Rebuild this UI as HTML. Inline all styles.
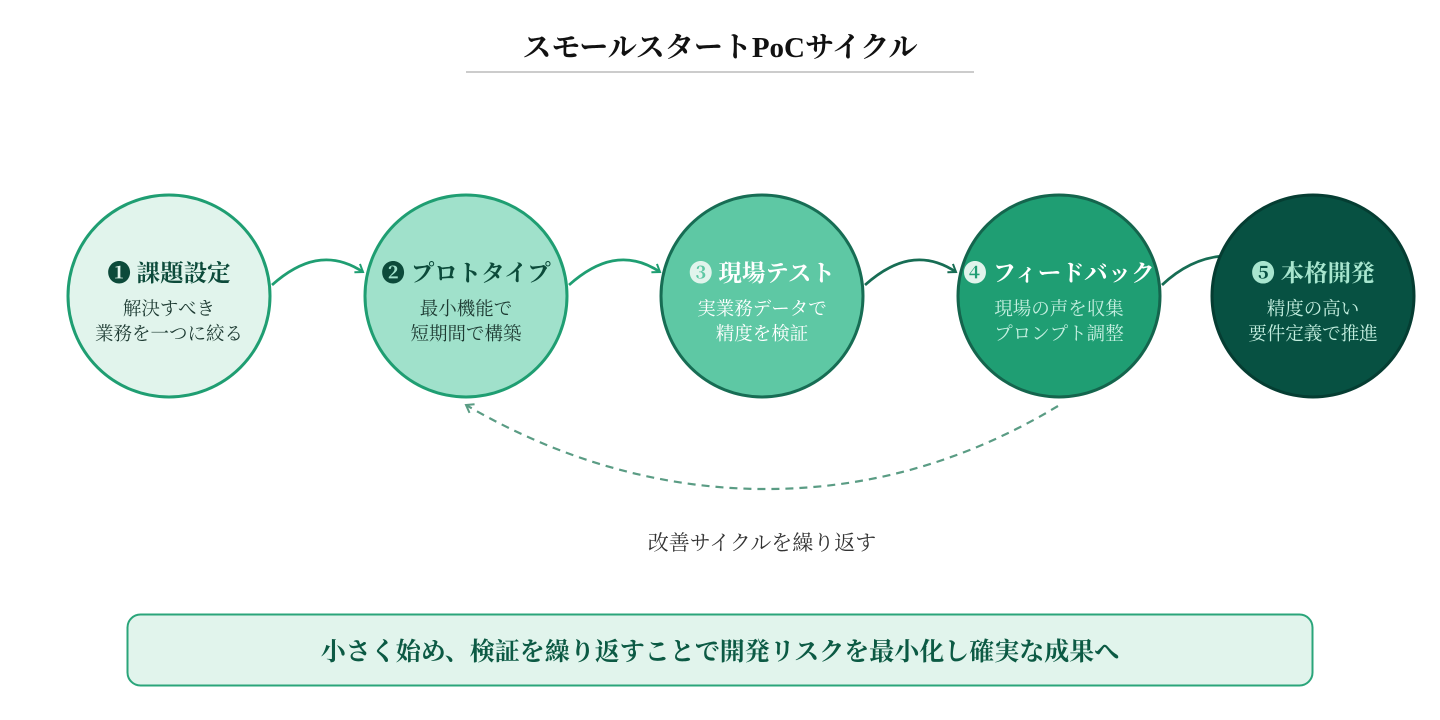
<!DOCTYPE html>
<html><head><meta charset="utf-8"><style>
html,body{margin:0;padding:0;background:#fff;}
body{width:1440px;height:720px;position:relative;overflow:hidden;font-family:"Liberation Serif","Noto Serif CJK SC",serif;}
</style></head><body>
<svg width="1440" height="720" viewBox="0 0 1440 720" xmlns="http://www.w3.org/2000/svg" style="position:absolute;left:0;top:0">
<defs>
<marker id="a1" markerWidth="12" markerHeight="12" refX="9" refY="6" orient="auto" markerUnits="userSpaceOnUse"><path d="M2,1 L9,6 L2,11" fill="none" stroke-width="2" stroke="#1f9e72"/></marker>
<marker id="a2" markerWidth="12" markerHeight="12" refX="9" refY="6" orient="auto" markerUnits="userSpaceOnUse"><path d="M2,1 L9,6 L2,11" fill="none" stroke-width="2" stroke="#176d54"/></marker>
<marker id="ad" markerWidth="14" markerHeight="14" refX="9" refY="6" orient="auto" markerUnits="userSpaceOnUse"><path d="M2,1 L9,6 L2,11" fill="none" stroke-width="2" stroke="#5a9c84"/></marker>
</defs>
<text x="720" y="57" text-anchor="middle" font-size="29" font-weight="700" fill="#111">スモールスタートPoCサイクル</text>
<line x1="466" y1="72" x2="974" y2="72" stroke="#ccc" stroke-width="2"/>

<path d="M272,285 C300,260 330,250 363,272" fill="none" stroke="#1f9e72" stroke-width="2.8" marker-end="url(#a1)"/>
<path d="M569,285 C597,260 627,250 660,272" fill="none" stroke="#1f9e72" stroke-width="2.8" marker-end="url(#a1)"/>
<path d="M865,285 C893,260 923,250 956,272" fill="none" stroke="#176d54" stroke-width="2.8" marker-end="url(#a2)"/>
<path d="M1162,285 C1180,268 1200,258 1222,256" fill="none" stroke="#176d54" stroke-width="2.8"/>

<path d="M1058,406 C960,465 860,490 760,489 C660,488 560,460 466,405" fill="none" stroke="#5a9c84" stroke-width="2.2" stroke-dasharray="8,6" marker-end="url(#ad)"/>

<circle cx="169" cy="296" r="101" fill="#e1f4ec" stroke="#1f9e72" stroke-width="3"/>
<circle cx="466" cy="296" r="101" fill="#a0e1cb" stroke="#1f9e72" stroke-width="3"/>
<circle cx="762" cy="296" r="101" fill="#5ec8a4" stroke="#176d54" stroke-width="3"/>
<circle cx="1059" cy="296" r="101" fill="#1f9e73" stroke="#14654d" stroke-width="3"/>
<circle cx="1313" cy="296" r="101" fill="#075142" stroke="#053d32" stroke-width="3"/>

<g font-size="23.5" font-weight="700" text-anchor="middle">
<text x="169" y="281" fill="#0c4a3a">❶ 課題設定</text>
<text x="466" y="281" fill="#0c4a3a">❷ プロトタイプ</text>
<text x="762" y="281" fill="#ffffff"><tspan fill="#e1f4ec">➌</tspan> 現場テスト</text>
<text x="1059" y="281" fill="#ffffff"><tspan fill="#e1f4ec">➍</tspan> フィードバック</text>
<text x="1313" y="281" fill="#a8e6cf">➎ 本格開発</text>
</g>
<g font-size="18.5" text-anchor="middle">
<text x="169" y="315" fill="#1d3a32">解決すべき</text><text x="169" y="340" fill="#1d3a32">業務を一つに絞る</text>
<text x="466" y="315" fill="#1d3a32">最小機能で</text><text x="466" y="340" fill="#1d3a32">短期間で構築</text>
<text x="762" y="315" fill="#ffffff">実業務データで</text><text x="762" y="340" fill="#ffffff">精度を検証</text>
<text x="1059" y="315" fill="#c4efe0">現場の声を収集</text><text x="1059" y="340" fill="#c4efe0">プロンプト調整</text>
<text x="1313" y="315" fill="#c4efe0">精度の高い</text><text x="1313" y="340" fill="#c4efe0">要件定義で推進</text>
</g>
<text x="762" y="550" text-anchor="middle" font-size="21" fill="#333">改善サイクルを繰り返す</text>
<rect x="127.5" y="614.5" width="1185" height="71" rx="13" fill="#e1f4ec" stroke="#2aa57a" stroke-width="2"/>
<text x="720" y="660" text-anchor="middle" font-size="25" font-weight="700" fill="#0c5a44">小さく始め、検証を繰り返すことで開発リスクを最小化し確実な成果へ</text>
</svg>
</body></html>
